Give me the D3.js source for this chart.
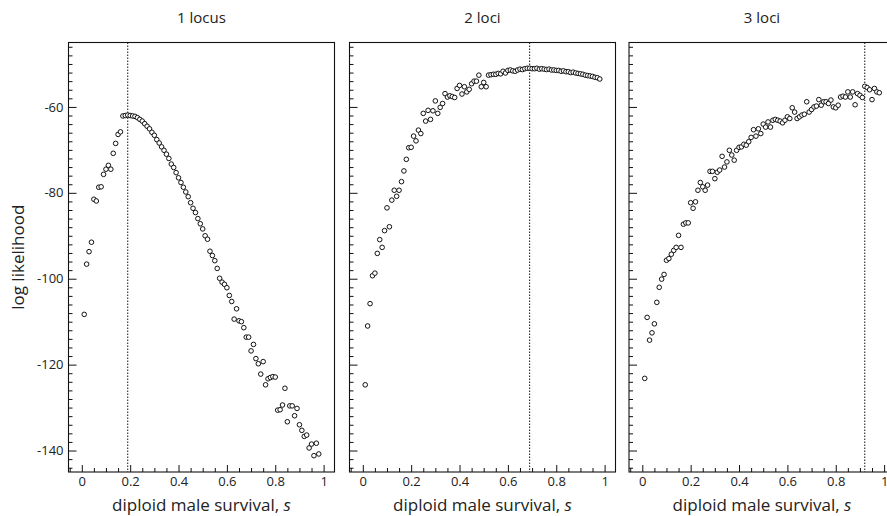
<html>
<head>
<meta charset="utf-8">
<script src="https://d3js.org/d3.v7.min.js"></script>
<style>
	body { margin: 0; background: white; }
	text { font-family: "Open Sans", sans-serif; fill: #222; }
</style>
</head>
<body>
<script>
	var width = 887, height = 516;

	// diploid male survival values, one point per value
	var survival = [0.01,0.02,0.03,0.04,0.05,0.06,0.07,0.08,0.09,0.10,
		0.11,0.12,0.13,0.14,0.15,0.16,0.17,0.18,0.19,0.20,
		0.21,0.22,0.23,0.24,0.25,0.26,0.27,0.28,0.29,0.30,
		0.31,0.32,0.33,0.34,0.35,0.36,0.37,0.38,0.39,0.40,
		0.41,0.42,0.43,0.44,0.45,0.46,0.47,0.48,0.49,0.50,
		0.51,0.52,0.53,0.54,0.55,0.56,0.57,0.58,0.59,0.60,
		0.61,0.62,0.63,0.64,0.65,0.66,0.67,0.68,0.69,0.70,
		0.71,0.72,0.73,0.74,0.75,0.76,0.77,0.78,0.79,0.80,
		0.81,0.82,0.83,0.84,0.85,0.86,0.87,0.88,0.89,0.90,
		0.91,0.92,0.93,0.94,0.95,0.96,0.97,0.98];

	var llOneLocus = [-108.3,-96.6,-93.7,-91.5,-81.5,-81.9,-78.7,-78.6,-75.7,-74.5,
		-73.6,-74.5,-70.8,-68.5,-66.4,-65.8,-62.1,-62.0,-61.9,-62.0,
		-62.1,-62.2,-62.5,-62.9,-63.3,-63.9,-64.5,-65.1,-65.9,-66.6,
		-67.6,-68.4,-69.3,-70.1,-71.0,-72.0,-73.3,-74.1,-75.3,-76.5,
		-77.6,-78.7,-79.8,-80.9,-82.3,-83.6,-84.6,-86.0,-87.2,-88.4,
		-90.0,-90.8,-93.6,-94.6,-95.8,-97.6,-99.9,-100.8,-101.3,-102.1,
		-103.9,-105.3,-109.4,-107.0,-109.8,-110.0,-111.4,-113.6,-113.6,-116.8,
		-115.3,-118.6,-119.8,-122.2,-119.3,-124.7,-123.3,-123.0,-122.8,-122.9,
		-130.6,-130.5,-129.4,-125.5,-133.3,-129.6,-129.6,-131.9,-130.2,-134.0,
		-135.3,-136.7,-136.4,-139.4,-138.5,-141.2,-138.3,-140.8];

	var llTwoLoci = [-124.7,-111.0,-105.8,-99.3,-98.7,-94.1,-90.9,-92.7,-88.8,-83.5,
		-87.9,-81.7,-79.4,-80.8,-79.4,-77.4,-74.9,-72.2,-69.5,-69.4,
		-66.8,-67.9,-65.4,-66.2,-61.5,-63.3,-60.8,-62.9,-60.9,-58.6,
		-61.5,-60.1,-59.2,-56.9,-57.7,-57.4,-57.6,-57.8,-55.7,-55.0,
		-57.0,-55.3,-56.5,-55.9,-54.6,-54.0,-54.0,-52.6,-55.3,-54.3,
		-55.3,-52.6,-52.5,-52.4,-52.4,-52.2,-52.3,-51.7,-52.1,-51.5,
		-51.4,-51.6,-51.7,-51.4,-51.2,-51.3,-51.1,-51.0,-51.0,-51.1,
		-51.1,-51.0,-51.2,-51.1,-51.2,-51.3,-51.2,-51.4,-51.4,-51.5,
		-51.5,-51.7,-51.6,-51.8,-51.8,-52.0,-51.9,-52.1,-52.2,-52.3,
		-52.4,-52.6,-52.7,-52.8,-52.9,-53.1,-53.2,-53.5];

	var llThreeLoci = [-123.2,-109.0,-114.3,-112.6,-110.5,-105.5,-102.0,-100.1,-99.0,-95.7,
		-95.3,-94.3,-93.4,-92.7,-89.9,-92.7,-87.3,-87.0,-87.0,-82.3,
		-83.6,-82.1,-79.4,-77.6,-78.6,-79.4,-78.2,-75.0,-75.0,-76.7,
		-75.2,-74.7,-71.5,-74.0,-72.8,-70.1,-71.2,-72.4,-70.1,-69.4,
		-69.3,-68.7,-68.9,-68.1,-67.1,-65.3,-66.8,-65.1,-66.2,-64.0,
		-64.7,-63.5,-64.7,-63.1,-62.9,-63.1,-63.3,-63.7,-63.1,-62.3,
		-62.7,-60.2,-61.2,-62.7,-62.3,-61.9,-61.7,-58.8,-61.2,-60.6,
		-60.0,-59.8,-58.3,-59.6,-58.8,-58.8,-59.2,-58.4,-60.0,-60.2,
		-59.6,-57.7,-57.5,-57.7,-56.5,-57.7,-56.5,-59.5,-56.9,-57.3,
		-57.8,-55.2,-55.5,-56.0,-58.3,-55.7,-56.5,-56.7];

	var panelTitles = ["1 locus", "2 loci", "3 loci"];
	var series = [llOneLocus, llTwoLoci, llThreeLoci];
	var bestS = [0.19, 0.69, 0.92];   // dotted lines at the maximum
	var xTickLabels = [0, 0.2, 0.4, 0.6, 0.8, 1];
	var yTickLabels = [-140, -120, -100, -80, -60];

	var panelLeft = [68.5, 349.5, 629];
	var panelW = 266;
	var plotTop = 42.5, plotBottom = 472;

	var svg = d3.select("body").append("svg")
		.attr("width", width)
		.attr("height", height);

	var y = d3.scaleLinear().domain([-145, -45]).range([plotBottom, plotTop]);
	var yMinor = d3.range(-144, -45, 2).filter(function(v){ return v % 20 != 0; });

	series.forEach(function(ll, p){
		var left = panelLeft[p];
		var x = d3.scaleLinear().domain([-0.055, 1.045]).range([left, left + panelW]);
		var xMinor = d3.range(-0.05, 1.04, 0.05).filter(function(v){
			return Math.abs(Math.round(v * 5) - v * 5) > 0.01;
		});
		var g = svg.append("g");

		// minor ticks
		g.append("g").attr("transform", "translate(" + left + ",0)")
			.call(d3.axisLeft(y).tickValues(yMinor).tickSize(-4).tickFormat(""));
		g.append("g").attr("transform", "translate(0," + plotBottom + ")")
			.call(d3.axisBottom(x).tickValues(xMinor).tickSize(-4).tickFormat(""));

		// major ticks and labels
		g.append("g").attr("transform", "translate(" + left + ",0)")
			.call(d3.axisLeft(y).tickValues(yTickLabels).tickSize(-8).tickPadding(5)
				.tickFormat(function(d){ return p == 0 ? String(d) : ""; }));
		g.append("g").attr("transform", "translate(0," + plotBottom + ")")
			.call(d3.axisBottom(x).tickValues(xTickLabels).tickSize(-7).tickPadding(5)
				.tickFormat(function(d){ return String(d); }));

		g.selectAll(".domain").remove();
		g.selectAll(".tick line").attr("stroke", "#111");
		g.selectAll(".tick text").style("font-size", "13px").attr("fill", "#333");

		// frame
		g.append("rect")
			.attr("x", left).attr("y", plotTop)
			.attr("width", panelW).attr("height", plotBottom - plotTop)
			.attr("fill", "none").attr("stroke", "#111").attr("stroke-width", 1.1);

		g.append("line")
			.attr("x1", x(bestS[p])).attr("x2", x(bestS[p]))
			.attr("y1", plotTop).attr("y2", plotBottom)
			.attr("stroke", "#111").attr("stroke-width", 1)
			.attr("stroke-dasharray", "1.5,1.5");

		g.selectAll("circle")
			.data(ll)
			.enter()
			.append("circle")
			.attr("cx", function(d, i){ return x(survival[i]); })
			.attr("cy", function(d){ return y(d); })
			.attr("r", 2.3)
			.attr("fill", "white")
			.attr("stroke", "#111")
			.attr("stroke-width", 1);

		g.append("text")
			.attr("x", left + panelW / 2).attr("y", 23)
			.attr("text-anchor", "middle")
			.style("font-size", "15px")
			.text(panelTitles[p]);

		var xl = g.append("text")
			.attr("x", left + panelW / 2).attr("y", 511)
			.attr("text-anchor", "middle")
			.style("font-size", "17px")
			.text("diploid male survival, ");
		xl.append("tspan").style("font-style", "italic").text("s");
	});

	svg.append("text")
		.attr("transform", "translate(24," + (plotTop + plotBottom) / 2 + ") rotate(-90)")
		.attr("text-anchor", "middle")
		.style("font-size", "17px")
		.text("log likelihood");
</script>
</body>
</html>
